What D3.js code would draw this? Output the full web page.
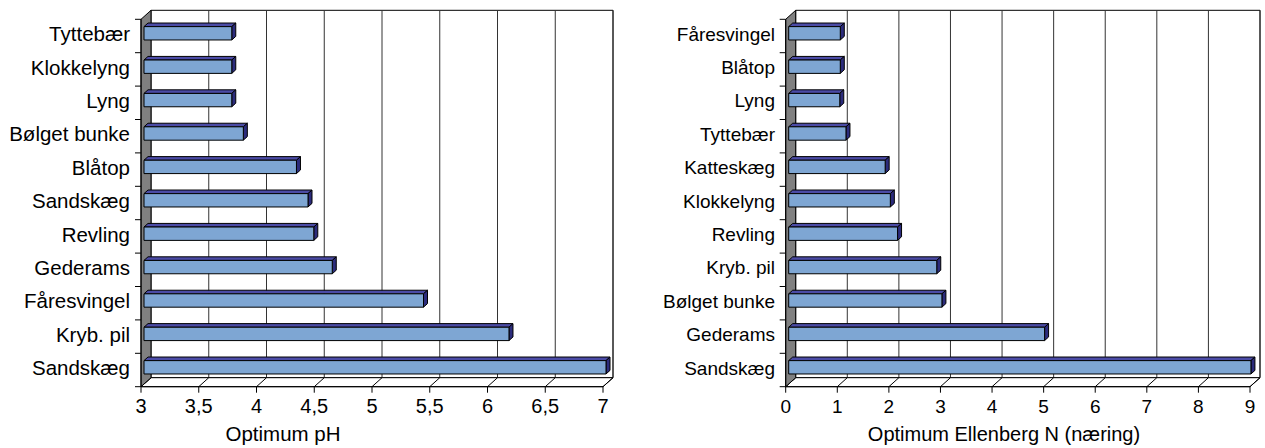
<!DOCTYPE html>
<html>
<head>
<meta charset="utf-8">
<script src="https://cdn.jsdelivr.net/npm/d3@7"></script>
<style>
  html, body { margin: 0; padding: 0; background: #fff; }
  svg { display: block; font-family: "Liberation Sans", Arial, sans-serif; }
</style>
</head>
<body>
<svg id="chart" width="1265" height="448"></svg>
<script>
// Optimum pH per species (top to bottom)
const phSpecies = ["Tyttebær", "Klokkelyng", "Lyng", "Bølget bunke", "Blåtop", "Sandskæg",
                   "Revling", "Gederams", "Fåresvingel", "Kryb. pil", "Sandskæg"];
const phValues  = [3.76, 3.76, 3.76, 3.86, 4.32, 4.42, 4.47, 4.63, 5.42, 6.16, 7.0];
const phTicks   = [3, 3.5, 4, 4.5, 5, 5.5, 6, 6.5, 7];

// Optimum Ellenberg N per species (top to bottom)
const nSpecies = ["Fåresvingel", "Blåtop", "Lyng", "Tyttebær", "Katteskæg", "Klokkelyng",
                  "Revling", "Kryb. pil", "Bølget bunke", "Gederams", "Sandskæg"];
const nValues  = [1.0, 1.0, 0.99, 1.11, 1.87, 1.97, 2.11, 2.87, 2.97, 4.96, 8.96];
const nTicks   = [0, 1, 2, 3, 4, 5, 6, 7, 8, 9];

const fmt = d3.formatLocale({ decimal: ",", thousands: ".", grouping: [3], currency: ["", " kr"] }).format("~g");

const svg = d3.select("#chart");

// depth of the 3D box, in pixels
const DX = 10, DY = -9;
const BAR_FRONT = 0.3, BAR_BACK = 0.7;

function drawPanel(opt) {
  const g = svg.append("g");
  const x = d3.scaleLinear().domain(opt.domain).range(opt.xRange);
  // index keys so that repeated species names get their own row
  const keys = opt.species.map((s, i) => i);
  const y = d3.scaleBand().domain(keys).range([opt.top, opt.bottom])
    .paddingInner(0.6).paddingOuter(0.3);
  const step = y.step();
  const x0 = opt.xRange[0], x1 = opt.xRange[1];
  const top = opt.top, bot = opt.bottom;
  const P = (v, yy, d) => [x(v) + DX * d, yy + DY * d];
  const poly = pts => "M" + pts.map(p => p.join(",")).join("L") + "Z";

  // back wall
  g.append("path")
    .attr("d", poly([[x0 + DX, top + DY], [x1 + DX, top + DY], [x1 + DX, bot + DY], [x0 + DX, bot + DY]]))
    .attr("fill", "#fff").attr("stroke", "#000").attr("stroke-width", 1);

  // gridlines on the back wall
  g.selectAll(".grid").data(opt.ticks.slice(1)).join("line")
    .attr("x1", d => x(d) + DX).attr("x2", d => x(d) + DX)
    .attr("y1", top + DY).attr("y2", bot + DY)
    .attr("stroke", "#333").attr("stroke-width", 1);

  // floor
  g.append("path")
    .attr("d", poly([[x0, bot], [x1, bot], [x1 + DX, bot + DY], [x0 + DX, bot + DY]]))
    .attr("fill", "#fff").attr("stroke", "#000").attr("stroke-width", 1);
  g.selectAll(".floorline").data(opt.ticks).join("line")
    .attr("x1", d => x(d)).attr("x2", d => x(d) + DX)
    .attr("y1", bot).attr("y2", bot + DY)
    .attr("stroke", "#000").attr("stroke-width", 1);

  // side wall
  g.append("path")
    .attr("d", poly([[x0, top], [x0 + DX, top + DY], [x0 + DX, bot + DY], [x0, bot]]))
    .attr("fill", "#808080").attr("stroke", "#000").attr("stroke-width", 1);

  // bars
  const bars = g.selectAll(".bar").data(opt.values.map((v, i) => ({ v, i }))).join("g");
  bars.each(function (d) {
    const b = d3.select(this);
    const yt = y(d.i), yb = y(d.i) + y.bandwidth();
    const s = opt.domain[0];
    // top face
    b.append("path")
      .attr("d", poly([P(s, yt, BAR_FRONT), P(d.v, yt, BAR_FRONT), P(d.v, yt, BAR_BACK), P(s, yt, BAR_BACK)]))
      .attr("fill", "#4b4ba6").attr("stroke", "#000").attr("stroke-width", 1);
    // end face
    b.append("path")
      .attr("d", poly([P(d.v, yt, BAR_FRONT), P(d.v, yt, BAR_BACK), P(d.v, yb, BAR_BACK), P(d.v, yb, BAR_FRONT)]))
      .attr("fill", "#2c2c7c").attr("stroke", "#000").attr("stroke-width", 1);
    // front face
    b.append("path")
      .attr("d", poly([P(s, yt, BAR_FRONT), P(d.v, yt, BAR_FRONT), P(d.v, yb, BAR_FRONT), P(s, yb, BAR_FRONT)]))
      .attr("fill", "#7ea6d3").attr("stroke", "#000").attr("stroke-width", 1);
  });

  // category axis ticks
  g.selectAll(".ctick").data(d3.range(keys.length + 1)).join("line")
    .attr("x1", x0 - 6).attr("x2", x0)
    .attr("y1", i => top + i * step).attr("y2", i => top + i * step)
    .attr("stroke", "#000");
  g.append("line").attr("x1", x0).attr("x2", x0).attr("y1", top).attr("y2", bot).attr("stroke", "#000");

  // category labels
  g.selectAll(".clabel").data(opt.species).join("text")
    .attr("x", opt.labelX)
    .attr("y", (d, i) => y(i) + y.bandwidth() / 2 - 2)
    .attr("dy", "0.35em")
    .attr("text-anchor", "end")
    .attr("font-size", opt.labelSize)
    .text(d => d);

  // value axis
  g.append("line").attr("x1", x0).attr("x2", x1).attr("y1", bot).attr("y2", bot).attr("stroke", "#000");
  g.selectAll(".vtick").data(opt.ticks).join("line")
    .attr("x1", d => x(d)).attr("x2", d => x(d))
    .attr("y1", bot).attr("y2", bot + 6)
    .attr("stroke", "#000");
  g.selectAll(".vlabel").data(opt.ticks).join("text")
    .attr("x", d => x(d)).attr("y", 413)
    .attr("text-anchor", "middle")
    .attr("font-size", opt.tickSize)
    .text(d => fmt(d));

  g.append("text")
    .attr("x", opt.titleX).attr("y", 441)
    .attr("text-anchor", "middle")
    .attr("font-size", opt.titleSize)
    .text(opt.title);
}

drawPanel({
  species: phSpecies, values: phValues, ticks: phTicks,
  domain: [3, 7], xRange: [141, 603], top: 19.3, bottom: 386.7,
  labelX: 130, labelSize: 20.5, tickSize: 20,
  title: "Optimum pH", titleX: 283, titleSize: 20.5
});

drawPanel({
  species: nSpecies, values: nValues, ticks: nTicks,
  domain: [0, 9], xRange: [785.7, 1250], top: 19.3, bottom: 386.7,
  labelX: 775, labelSize: 19, tickSize: 19,
  title: "Optimum Ellenberg N (næring)", titleX: 1004, titleSize: 20
});
</script>
</body>
</html>
